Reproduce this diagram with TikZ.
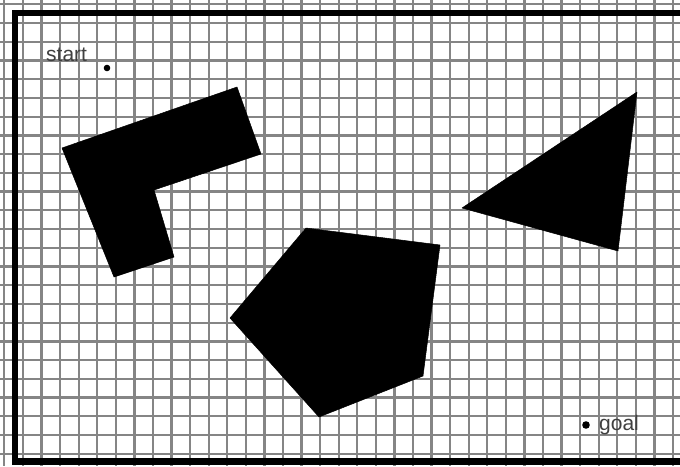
\documentclass[tikz,border=0pt]{standalone}
\usepackage{fontspec}
\setmainfont{Liberation Sans}
\usepackage{tikz}
\usetikzlibrary{calc}

\begin{document}
\begin{tikzpicture}[x=1pt,y=-1pt]

   %%%%%%%%%%%%%%%%%%%%%%%%%%%%%%%%%%%%%%%%%%%%%%%%%%%%%%%%%%%%%%%%%%%%%%
   % Parameter
   %%%%%%%%%%%%%%%%%%%%%%%%%%%%%%%%%%%%%%%%%%%%%%%%%%%%%%%%%%%%%%%%%%%%%%
   \def\breite{680}
   \def\hoehe{466}
   \def\gdx{18.57}
   \def\gdy{18.73}
   \def\xnull{23}
   \def\ynull{23}

   % Stile
   \tikzset{
      gitter/.style={black!48,line width=2.3pt},
      rand/.style={black,line width=6.5pt},
      hindernis/.style={fill=black,draw=black,line width=0.5pt,line join=round},
      punkt/.style={fill=black},
      beschriftung/.style={anchor=base west,inner sep=0pt,text=black!75,
         font=\fontsize{21}{24}\selectfont}
   }

   \useasboundingbox (0,0) rectangle (\breite,\hoehe);
   \fill[white] (0,0) rectangle (\breite,\hoehe);

   %%%%%%%%%%%%%%%%%%%%%%%%%%%%%%%%%%%%%%%%%%%%%%%%%%%%%%%%%%%%%%%%%%%%%%
   % Gitter
   %%%%%%%%%%%%%%%%%%%%%%%%%%%%%%%%%%%%%%%%%%%%%%%%%%%%%%%%%%%%%%%%%%%%%%
   \foreach \i in {0,...,35}
      \draw[gitter] ({\xnull+\i*\gdx},0) -- ({\xnull+\i*\gdx},\hoehe);
   \foreach \j in {0,...,23}
      \draw[gitter] (0,{\ynull+\j*\gdy}) -- (\breite,{\ynull+\j*\gdy});

   % Reste des Gitters ausserhalb des Rahmens
   \draw[gitter,line width=1.2pt] (4,0) -- (4,\hoehe);
   \draw[gitter,line width=1.2pt] (0,4) -- (\breite,4);

   %%%%%%%%%%%%%%%%%%%%%%%%%%%%%%%%%%%%%%%%%%%%%%%%%%%%%%%%%%%%%%%%%%%%%%
   % Rahmen (oben, links, unten)
   %%%%%%%%%%%%%%%%%%%%%%%%%%%%%%%%%%%%%%%%%%%%%%%%%%%%%%%%%%%%%%%%%%%%%%
   \draw[rand] (\breite,13) -- (15,13) -- (15,461.5) -- (\breite,461.5);

   %%%%%%%%%%%%%%%%%%%%%%%%%%%%%%%%%%%%%%%%%%%%%%%%%%%%%%%%%%%%%%%%%%%%%%
   % Hindernisse
   %%%%%%%%%%%%%%%%%%%%%%%%%%%%%%%%%%%%%%%%%%%%%%%%%%%%%%%%%%%%%%%%%%%%%%
   % L-Form
   \fill[hindernis] (62,148) -- (237,87) -- (261,154) -- (154,190)
      -- (174,257) -- (114,277) -- cycle;

   % Fuenfeck
   \fill[hindernis] (306,228) -- (440,245) -- (423,376) -- (319,417)
      -- (230,318) -- cycle;

   % Dreieck
   \fill[hindernis] (637,92) -- (462,208) -- (618,251) -- cycle;

   %%%%%%%%%%%%%%%%%%%%%%%%%%%%%%%%%%%%%%%%%%%%%%%%%%%%%%%%%%%%%%%%%%%%%%
   % Start und Ziel
   %%%%%%%%%%%%%%%%%%%%%%%%%%%%%%%%%%%%%%%%%%%%%%%%%%%%%%%%%%%%%%%%%%%%%%
   \coordinate (Start) at (107,68);
   \coordinate (Ziel)  at (586,425);

   \fill[punkt] (Start) circle (3.3pt);
   \fill[punkt] (Ziel) circle (3.8pt);

   \node[beschriftung] (startlabel) at (46,61.5) {start};
   \node[beschriftung] (goallabel)  at (599,430.5) {goal};

\end{tikzpicture}
\end{document}
